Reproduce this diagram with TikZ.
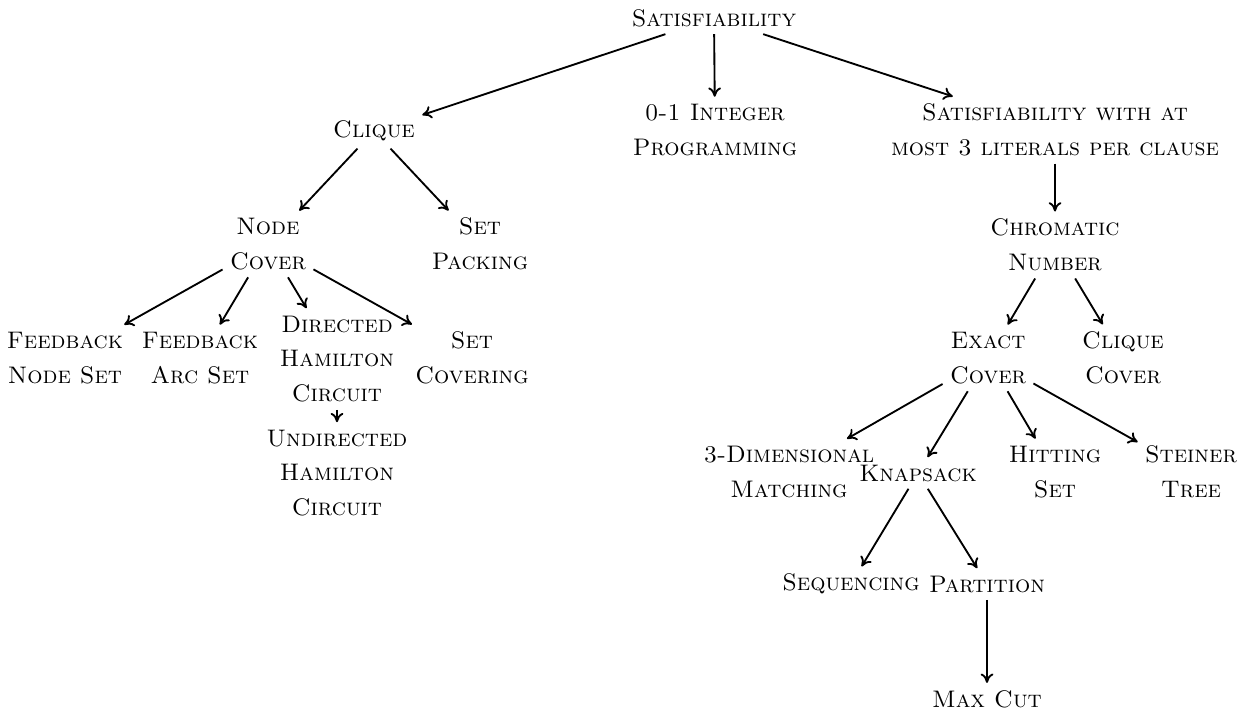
\documentclass[tikz,border=0pt]{standalone}
\usetikzlibrary{arrows.meta}
\begin{document}
\begin{tikzpicture}[x=0.43pt,y=-0.43pt,
  prob/.style={align=center,inner sep=3pt,font={\fontsize{10.3}{15}\selectfont\scshape}},
  red/.style={-{To[length=4pt,width=5.5pt]},line width=0.8pt}]
\useasboundingbox (0,0) rectangle (1245,711);
% problems
\node[prob] (sat)   at (714,18)   {Satisfiability};
\node[prob] (clq)   at (374,131)  {Clique};
\node[prob] (ilp)   at (715,130)  {0-1 Integer\\Programming};
\node[prob] (sat3)  at (1055,130) {Satisfiability with at\\most 3 literals per clause};
\node[prob] (nc)    at (268,244)  {Node\\Cover};
\node[prob] (sp)    at (480,244)  {Set\\Packing};
\node[prob] (chr)   at (1055,245) {Chromatic\\Number};
\node[prob] (fns)   at (65,358)   {Feedback\\Node Set};
\node[prob] (fas)   at (200,358)  {Feedback\\Arc Set};
\node[prob] (dhc)   at (337,359)  {Directed\\Hamilton\\Circuit};
\node[prob] (sc)    at (472,358)  {Set\\Covering};
\node[prob] (uhc)   at (337,473)  {Undirected\\Hamilton\\Circuit};
\node[prob] (ec)    at (988,358)  {Exact\\Cover};
\node[prob] (cc)    at (1123,358) {Clique\\Cover};
\node[prob] (tdm)   at (789,472)  {3-Dimensional\\Matching};
\node[prob] (ks)    at (918,473)  {Knapsack};
\node[prob] (hs)    at (1055,472) {Hitting\\Set};
\node[prob] (st)    at (1191,472) {Steiner\\Tree};
\node[prob] (seq)   at (851,584)  {Sequencing};
\node[prob] (par)   at (987,584)  {Partition};
\node[prob] (mc)    at (987,699)  {Max Cut};
% reductions
\draw[red] (sat) -- (clq);
\draw[red] (sat) -- (ilp);
\draw[red] (sat) -- (sat3);
\draw[red] (clq) -- (nc);
\draw[red] (clq) -- (sp);
\draw[red] (nc) -- (fns);
\draw[red] (nc) -- (fas);
\draw[red] (nc) -- (dhc);
\draw[red] (nc) -- (sc);
\draw[red] (dhc) -- (uhc);
\draw[red] (sat3) -- (chr);
\draw[red] (chr) -- (ec);
\draw[red] (chr) -- (cc);
\draw[red] (ec) -- (tdm);
\draw[red] (ec) -- (ks);
\draw[red] (ec) -- (hs);
\draw[red] (ec) -- (st);
\draw[red] (ks) -- (seq);
\draw[red] (ks) -- (par);
\draw[red] (par) -- (mc);
\end{tikzpicture}
\end{document}
